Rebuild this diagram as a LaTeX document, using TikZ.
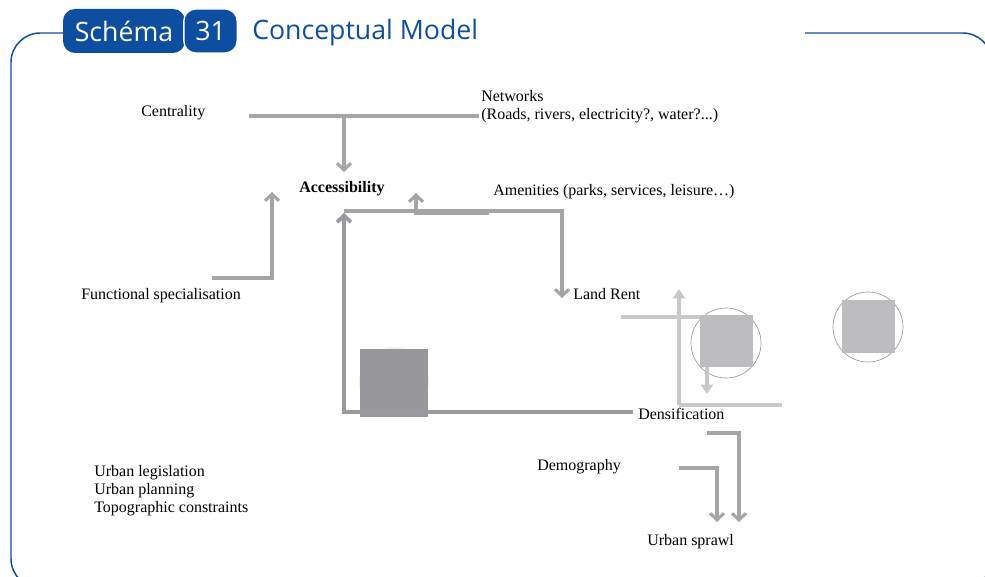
\documentclass[tikz,border=0pt]{standalone}
\usepackage{fontspec}
\setmainfont{Liberation Serif}
\newfontfamily\headfont{Open Sans}
\usetikzlibrary{arrows.meta}
\definecolor{hblue}{RGB}{14,78,161}
\definecolor{lgray}{RGB}{165,165,168}
\definecolor{dgray}{RGB}{155,155,159}
\definecolor{pale}{RGB}{200,200,202}
\definecolor{sqgray}{RGB}{189,189,191}
\definecolor{darksq}{RGB}{152,152,156}
\begin{document}
\begin{tikzpicture}[x=0.75pt,y=-0.75pt,
  conn/.style={draw=lgray, line width=2.3pt},
  arr/.style={conn, -{Straight Barb[length=5pt,width=10.5pt]}},
  loopline/.style={draw=dgray, line width=2.8pt, -{Straight Barb[length=5pt,width=10.5pt]}},
  paleline/.style={draw=pale, line width=2.4pt},
  palearr/.style={paleline, -{Triangle[length=7pt,width=9pt]}},
  lbl/.style={anchor=base west, inner sep=0pt, font=\fontsize{12}{14}\selectfont},
  badge/.style={fill=hblue, text=white, rounded corners=9pt, minimum height=33pt, inner sep=0pt, font=\headfont\fontsize{20}{24}\selectfont},
  ring/.style={draw=gray!80, line width=0.5pt}
]
\useasboundingbox (0,0) rectangle (985,577);
% frame
\begin{scope}
\clip (0,0) rectangle (985,577);
\draw[hblue, line width=1.1pt, rounded corners=22pt] (64,33) -- (11,33) -- (11,588) -- (992,588) -- (992,33) -- (805,33);
\end{scope}
% header
\node[badge, minimum width=91.5pt] (schema) at (124,31) {Schéma};
\node[badge, minimum width=40pt, draw=white, line width=1pt] (num) at (210.5,31) {31};
\node[anchor=base west, inner sep=0pt, text=hblue, font=\headfont\fontsize{20}{24}\selectfont] (title) at (252,40) {Conceptual Model};

% labels
\node[lbl] (cen) at (141,117) {Centrality};
\node[lbl] (net) at (481,102) {Networks};
\node[lbl] (net2) at (481,120) {(Roads, rivers, electricity?, water?...)};
\node[lbl, font=\fontsize{12}{14}\selectfont\bfseries] (acc) at (299,193) {Accessibility};
\node[lbl] (amen) at (493,196) {Amenities (parks, services, leisure…)};
\node[lbl] (func) at (81,300) {Functional specialisation};
\node[lbl] (land) at (573,300) {Land Rent};
\node[lbl] (dens) at (638,419) {Densification};
\node[lbl] (demo) at (537,470) {Demography};
\node[lbl] (sprawl) at (647,545) {Urban sprawl};
\node[lbl] (leg) at (94,476) {Urban legislation};
\node[lbl] (plan) at (94,494) {Urban planning};
\node[lbl] (topo) at (94,512) {Topographic constraints};

% coordinates
\coordinate (nL) at (249,116);
\coordinate (nR) at (479,116);
\coordinate (nJ) at (344,116);
\coordinate (accIn) at (344,172);
\coordinate (fS) at (212,278);
\coordinate (fE) at (272,192);
\coordinate (aS) at (489,213);
\coordinate (aE) at (416,193);
\coordinate (dS) at (633,412);
\coordinate (dE) at (344,213);
\coordinate (tS) at (344,211);
\coordinate (tE) at (562,298);
\coordinate (d2S) at (707,433);
\coordinate (d2E) at (739,522);
\coordinate (mS) at (679,468);
\coordinate (mE) at (717,522);

% faint circle and dark square
\fill[gray!12] (394,382) circle (35);
\fill[darksq] (360,349) rectangle (428,417);

% connectors
\draw[conn] (nL) -- (nR);
\draw[arr] (nJ) -- (accIn);
\draw[arr] (fS) -| (fE);
\draw[loopline] (dS) -| (dE);
\draw[arr] (tS) -| (tE);
\draw[arr] (aS) -| (aE);
\draw[arr] (d2S) -| (d2E);
\draw[arr] (mS) -| (mE);

% pale figure
\coordinate (p1) at (621,317);
\coordinate (p2) at (700,317);
\coordinate (p3) at (679,405);
\coordinate (p4) at (679,289);
\coordinate (p5) at (782,405);
\coordinate (p6) at (707,367);
\coordinate (p7) at (707,394);
\draw[paleline] (p1) -- (p2);
\draw[paleline] (p3) -- (p5);
\draw[palearr] (p3) -- (p4);
\draw[ring] (726,343) circle (35);
\fill[sqgray] (700,315) rectangle (753,367);
\draw[palearr] (p6) -- (p7);
\draw[ring] (868,327) circle (35);
\fill[sqgray] (842,300) rectangle (895,353);
\end{tikzpicture}
\end{document}
